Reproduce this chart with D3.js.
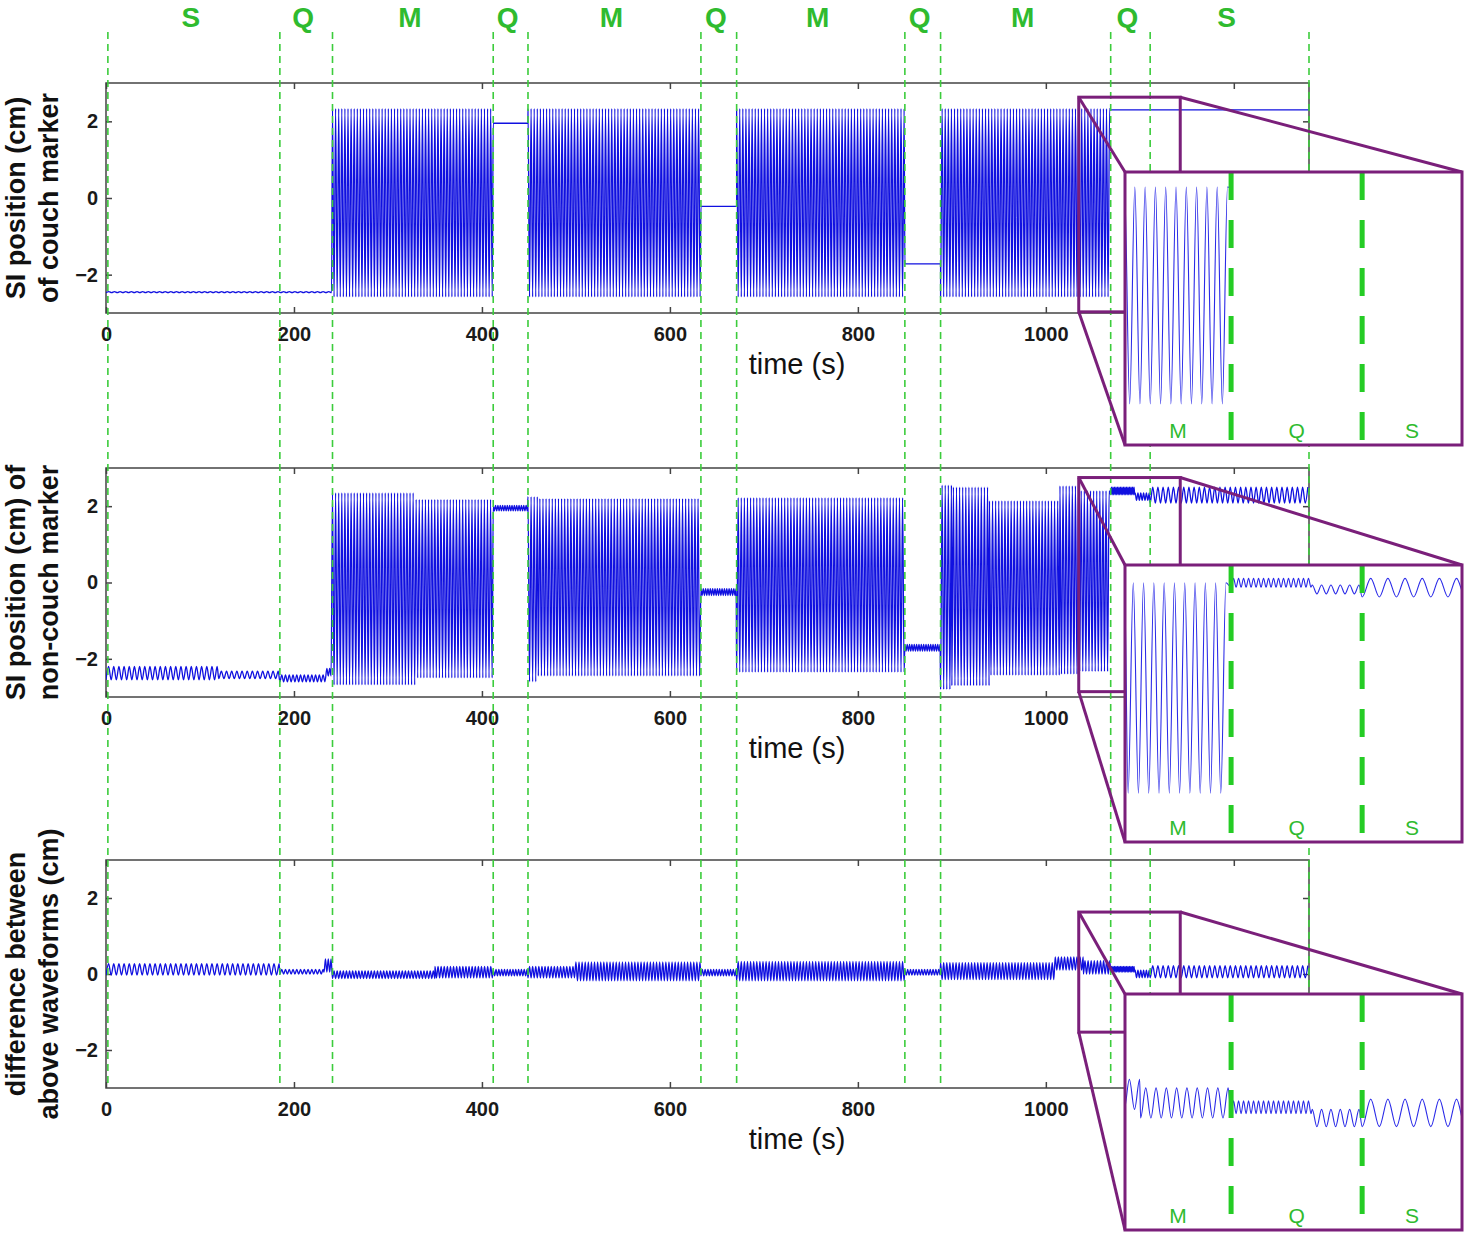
<!DOCTYPE html>
<html><head><meta charset="utf-8">
<script src="https://cdn.jsdelivr.net/npm/d3@7"></script>
<style>body{margin:0;background:#fff}svg{display:block}</style>
</head><body>
<svg id="c" width="1467" height="1234"></svg>
<script>
// ---------- data ----------
const phaseNames  = ["S","Q","M","Q","M","Q","M","Q","M","Q","S"];
const phaseBounds = [2,185,241,412,449,633,671,850,888,1069,1111,1280];
const xTicks = [0,200,400,600,800,1000,1200];
const yTicks = [-2,0,2];
const tEnd = 1280;

// couch marker: piece start (s), lower / upper envelope (cm), cycle period (s, 0 = flat)
const couchStart  = [0,241,412,449,633,671,850,888,1069];
const couchLow    = [-2.47,-2.58,1.95,-2.58,-0.22,-2.58,-1.72,-2.58,2.30];
const couchHigh   = [-2.44,2.33,1.95,2.33,-0.22,2.33,-1.72,2.33,2.30];
const couchPeriod = [6,3.3,0,3.3,0,3.3,0,3.3,0];

// non-couch marker
const nonStart  = [0,120,185,235,241,330,412,449,460,633,671,850,888,900,940,1015,1036,1069,1095,1111];
const nonLow    = [-2.55,-2.52,-2.60,-2.45,-2.68,-2.50,1.88,-2.60,-2.45,-0.34,-2.35,-1.80,-2.80,-2.70,-2.43,-2.40,-2.33,2.30,2.15,2.08];
const nonHigh   = [-2.20,-2.32,-2.42,-2.25,2.35,2.18,2.02,2.25,2.20,-0.16,2.22,-1.62,2.55,2.50,2.14,2.53,2.40,2.50,2.35,2.50];
const nonPeriod = [5.5,5.5,4,3,3.3,3.3,2.5,3.3,3.3,2.5,3.3,2.5,3.3,3.3,3.3,3.3,3.3,1.6,3,5.5];

// difference between waveforms
const diffStart  = [0,185,232,241,350,412,449,500,633,671,850,888,1010,1040,1069,1095,1111];
const diffLow    = [-0.03,0.00,0.05,-0.12,-0.10,-0.05,-0.10,-0.18,-0.05,-0.18,-0.03,-0.15,0.10,0.00,0.05,-0.10,-0.10];
const diffHigh   = [0.27,0.12,0.40,0.08,0.20,0.12,0.20,0.32,0.12,0.33,0.12,0.30,0.45,0.35,0.20,0.10,0.22];
const diffPeriod = [5.5,4,3,3.3,3.3,3,3.3,3.3,3,3.3,3,3.3,3.3,3.3,1.6,3,5.5];

// zoomed window (s) and its value range on each panel
const zoomTime = [1035,1143];
const zoomRange1 = [-2.97,2.63], zoomRange2 = [-2.86,2.75], zoomRange3 = [-1.53,1.63];
const insetDomain1 = [-3.51,2.67], insetDomain2 = [-3.43,2.80], insetDomain3 = [-1.30,1.44];

const yLabels = [["SI position (cm)","of couch marker"],["SI position (cm) of","non-couch marker"],["difference between","above waveforms (cm)"]];

// ---------- layout ----------
const FONT = "'Liberation Sans', Arial, Helvetica, sans-serif";
const X0 = 106, X1 = 1309;
const panels = [
  {top:83,  bottom:313,  start:couchStart, low:couchLow, high:couchHigh, period:couchPeriod, zr:zoomRange1, idom:insetDomain1, box:[1125,1462,172,445]},
  {top:468, bottom:697,  start:nonStart,   low:nonLow,   high:nonHigh,   period:nonPeriod,   zr:zoomRange2, idom:insetDomain2, box:[1125,1462,565,842]},
  {top:860, bottom:1088, start:diffStart,  low:diffLow,  high:diffHigh,  period:diffPeriod,  zr:zoomRange3, idom:insetDomain3, box:[1125,1462,994,1230]}
];
const BLUE = "#1010e0", GREEN = "#3ccc3c", GREEN_T = "#2fbb2f", PURPLE = "#7a1f7a", AX = "#444";

const svg = d3.select("#c");
const x = d3.scaleLinear().domain([0, tEnd]).range([X0, X1]);
const fmtY = d => d < 0 ? "\u2212" + Math.abs(d) : String(d);

function buildPoints(start, low, high, period) {
  const pts = [];
  let k = 0;
  for (let i = 0; i < start.length; i++) {
    const t0 = start[i], t1 = (i + 1 < start.length) ? start[i + 1] : tEnd;
    if (period[i] === 0) {
      const m = (low[i] + high[i]) / 2;
      pts.push([t0, m], [t1 - 0.01, m]);
    } else {
      const h = period[i] / 2;
      for (let t = t0; t < t1 - 1e-6; t += h) { pts.push([t, (k % 2) ? high[i] : low[i]]); k++; }
    }
  }
  return pts;
}

panels.forEach((p, pi) => {
  const y = d3.scaleLinear().domain([-3, 3]).range([p.bottom, p.top]);
  p.y = y;
  const g = svg.append("g");
  const cid = "clip" + pi;
  svg.append("clipPath").attr("id", cid).append("rect")
    .attr("x", X0).attr("y", p.top).attr("width", X1 - X0).attr("height", p.bottom - p.top);

  // axes frame
  g.append("rect").attr("x", X0).attr("y", p.top).attr("width", X1 - X0).attr("height", p.bottom - p.top)
    .attr("fill", "none").attr("stroke", AX).attr("stroke-width", 1.5);
  const bAx = g.append("g").attr("transform", `translate(0,${p.bottom})`)
    .call(d3.axisBottom(x).tickValues(xTicks).tickSizeInner(-6).tickSizeOuter(0).tickPadding(14).tickFormat(d3.format("d")));
  const tAx = g.append("g").attr("transform", `translate(0,${p.top})`)
    .call(d3.axisTop(x).tickValues(xTicks).tickSizeInner(-6).tickSizeOuter(0).tickFormat(""));
  const lAx = g.append("g").attr("transform", `translate(${X0},0)`)
    .call(d3.axisLeft(y).tickValues(yTicks).tickSizeInner(-6).tickSizeOuter(0).tickPadding(8).tickFormat(fmtY));
  const rAx = g.append("g").attr("transform", `translate(${X1},0)`)
    .call(d3.axisRight(y).tickValues(yTicks).tickSizeInner(-6).tickSizeOuter(0).tickFormat(""));
  [bAx, tAx, lAx, rAx].forEach(a => {
    a.select(".domain").remove();
    a.selectAll("line").attr("stroke", AX).attr("stroke-width", 1.5);
    a.selectAll("text").attr("font-family", FONT).attr("font-size", 20).attr("font-weight", "bold").attr("fill", "#1a1a1a");
  });
  bAx.selectAll("text").attr("dy", "0.71em");

  g.append("text").attr("x", 797).attr("y", p.bottom + 61).attr("text-anchor", "middle")
    .attr("font-family", FONT).attr("font-size", 29).attr("fill", "#111").text("time (s)");

  const cy = (p.top + p.bottom) / 2;
  yLabels[pi].forEach((s, li) => {
    g.append("text").attr("transform", `translate(${li === 0 ? 25 : 58},${cy}) rotate(-90)`)
      .attr("text-anchor", "middle").attr("font-family", FONT).attr("font-size", 27)
      .attr("font-weight", "bold").attr("fill", "#111").text(s);
  });

  // waveform
  p.pts = buildPoints(p.start, p.low, p.high, p.period);
  const line = d3.line().x(d => x(d[0])).y(d => y(d[1])).curve(d3.curveMonotoneX);
  g.append("path").attr("clip-path", `url(#${cid})`).attr("d", line(p.pts))
    .attr("fill", "none").attr("stroke", BLUE).attr("stroke-width", 1.3);
});

// phase boundary lines
svg.append("g").selectAll("line").data(phaseBounds).join("line")
  .attr("x1", d => x(d)).attr("x2", d => x(d)).attr("y1", 32).attr("y2", 1088)
  .attr("stroke", GREEN).attr("stroke-width", 1.6).attr("stroke-dasharray", "7,5");

// phase letters
svg.append("g").selectAll("text").data(phaseNames).join("text")
  .attr("x", (d, i) => x((phaseBounds[i] + phaseBounds[i + 1]) / 2) - 3).attr("y", 27)
  .attr("text-anchor", "middle").attr("font-family", FONT).attr("font-size", 28)
  .attr("font-weight", "bold").attr("fill", GREEN_T).text(d => d);

// insets
panels.forEach((p, pi) => {
  const [L, R, T, B] = p.box;
  const sx0 = x(zoomTime[0]), sx1 = x(zoomTime[1]);
  const sy0 = p.y(p.zr[1]), sy1 = p.y(p.zr[0]);
  const g = svg.append("g");
  g.append("rect").attr("x", sx0).attr("y", sy0).attr("width", sx1 - sx0).attr("height", sy1 - sy0)
    .attr("fill", "none").attr("stroke", PURPLE).attr("stroke-width", 3);
  g.append("line").attr("x1", sx0).attr("y1", sy0).attr("x2", L).attr("y2", T).attr("stroke", PURPLE).attr("stroke-width", 3);
  g.append("line").attr("x1", sx1).attr("y1", sy0).attr("x2", R).attr("y2", T).attr("stroke", PURPLE).attr("stroke-width", 3);
  g.append("line").attr("x1", sx0).attr("y1", sy1).attr("x2", L).attr("y2", B).attr("stroke", PURPLE).attr("stroke-width", 3);

  g.append("rect").attr("x", L).attr("y", T).attr("width", R - L).attr("height", B - T).attr("fill", "#fff");
  const ix = d3.scaleLinear().domain(zoomTime).range([L, R]);
  const iy = d3.scaleLinear().domain(p.idom).range([B, T]);
  const cid = "iclip" + pi;
  svg.append("clipPath").attr("id", cid).append("rect").attr("x", L).attr("y", T).attr("width", R - L).attr("height", B - T);
  const pts = p.pts.filter(d => d[0] >= zoomTime[0] - 10 && d[0] <= zoomTime[1] + 10);
  const line = d3.line().x(d => ix(d[0])).y(d => iy(d[1])).curve(d3.curveMonotoneX);
  g.append("path").attr("clip-path", `url(#${cid})`).attr("d", line(pts))
    .attr("fill", "none").attr("stroke", "#2a2ae8").attr("stroke-width", 1.1);

  const inB = phaseBounds.filter(b => b > zoomTime[0] && b < zoomTime[1]);
  g.selectAll("line.ib").data(inB).join("line").attr("class", "ib")
    .attr("x1", d => ix(d)).attr("x2", d => ix(d)).attr("y1", T).attr("y2", B)
    .attr("stroke", "#25cc25").attr("stroke-width", 5).attr("stroke-dasharray", "28,20");

  const vis = [];
  for (let i = 0; i < phaseNames.length; i++) {
    const a = Math.max(phaseBounds[i], zoomTime[0]), b = Math.min(phaseBounds[i + 1], zoomTime[1]);
    if (b > a) vis.push({n: phaseNames[i], m: (a + b) / 2});
  }
  g.selectAll("text.il").data(vis).join("text").attr("class", "il")
    .attr("x", d => ix(d.m)).attr("y", B - 7).attr("text-anchor", "middle")
    .attr("font-family", FONT).attr("font-size", 21).attr("fill", GREEN_T).text(d => d.n);

  g.append("rect").attr("x", L).attr("y", T).attr("width", R - L).attr("height", B - T)
    .attr("fill", "none").attr("stroke", PURPLE).attr("stroke-width", 3);
});
</script>
</body></html>
